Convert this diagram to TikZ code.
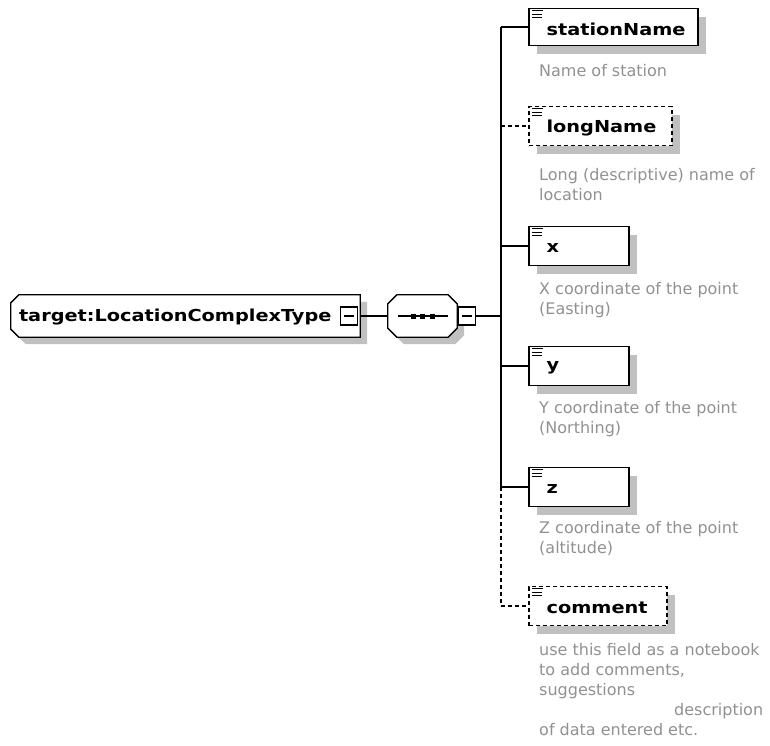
\documentclass[tikz,border=0pt]{standalone}
\usepackage{fontspec}
\setmainfont{DejaVu Sans}
\newfontfamily\labelfont[FakeStretch=1.17]{DejaVu Sans}
\newfontfamily\notefont{DejaVu Sans}
\usetikzlibrary{shadows,calc}

\definecolor{shadowgray}{RGB}{192,192,192}
\definecolor{notegray}{RGB}{145,145,145}

\tikzset{
  boxshadow/.style={drop shadow={shadow xshift=8pt, shadow yshift=-8pt,
      fill=shadowgray, opacity=1}},
  elembox/.style={draw, line width=1.3pt, fill=white, inner sep=0pt,
      minimum height=39pt, boxshadow},
  optbox/.style={elembox, dashed, dash pattern=on 4pt off 3pt},
  typearea/.style={inner sep=0pt, minimum height=42pt},
  outline/.style={draw, line width=1.3pt, fill=white, line join=miter,
      drop shadow={shadow xshift=7pt, shadow yshift=-7pt,
      fill=shadowgray, opacity=1}},
  minusbox/.style={draw, line width=1.2pt, fill=white, inner sep=0pt,
      minimum width=17pt, minimum height=18pt},
  elemlabel/.style={anchor=west, inner sep=0pt,
      font=\labelfont\bfseries\fontsize{16.5}{19}\selectfont},
  note/.style={anchor=north west, inner sep=0pt, align=left, text=notegray,
      font=\notefont\fontsize{16}{20}\selectfont},
  wire/.style={line width=1.3pt},
  optwire/.style={wire, dash pattern=on 4pt off 3pt},
  iconline/.style={line width=1.2pt},
}

\begin{document}
\begin{tikzpicture}[x=1pt, y=-1pt]
  \useasboundingbox (0,0) rectangle (770,745);

  % complex type: left corners cut off
  \node[typearea, minimum width=349pt] (type) at (185.5,316) {};
  \path[outline] ($(type.north west)+(8,0)$) -- (type.north east)
      -- (type.south east) -- ($(type.south west)+(8,0)$)
      -- ($(type.south west)+(0,-8)$) -- ($(type.north west)+(0,8)$) -- cycle;
  \node[elemlabel] (typelabel) at ($(type.west)+(8,1)$) {target:LocationComplexType};
  \node[minusbox, anchor=east] (typeminus) at ($(type.east)+(-2,0)$) {};
  \draw[line width=1.2pt] ($(typeminus.west)+(4,0)$) -- ($(typeminus.east)+(-4,0)$);

  % sequence compositor: all corners cut off
  \node[typearea, minimum width=69pt] (seq) at (422.5,316) {};
  \path[outline] ($(seq.north west)+(9,0)$) -- ($(seq.north east)+(-9,0)$)
      -- ($(seq.north east)+(0,9)$) -- ($(seq.south east)+(0,-9)$)
      -- ($(seq.south east)+(-9,0)$) -- ($(seq.south west)+(9,0)$)
      -- ($(seq.south west)+(0,-9)$) -- ($(seq.north west)+(0,9)$) -- cycle;
  \draw[line width=1.3pt] ($(seq.west)+(10,0)$) -- ($(seq.east)+(-9,0)$);
  \foreach \dx in {-9.5,0,9.5}
    \fill ($(seq.center)+(\dx-2.5,-2.5)$) rectangle ++(5,5);
  \node[minusbox, anchor=west] (seqminus) at ($(seq.east)+(1,0)$) {};
  \draw[line width=1.2pt] ($(seqminus.west)+(4,0)$) -- ($(seqminus.east)+(-4,0)$);

  \draw[wire] (type.east) -- (seq.west);

  % trunk of the sequence
  \coordinate (trunktop) at (501,27);
  \coordinate (fork) at (501,316);
  \coordinate (trunkz) at (501,487);
  \coordinate (trunkbot) at (501,606);
  \draw[wire] (seqminus.east) -- (fork);
  \draw[wire] (trunktop) -- (trunkz);
  \draw[optwire] (trunkz) -- (trunkbot);

  % child elements
  \node[elembox, minimum width=169pt, minimum height=37pt] (sn) at (613.5,27) {};
  \node[optbox, minimum width=143pt] (ln) at (600.5,126) {};
  \node[elembox, minimum width=100pt] (xx) at (579,246) {};
  \node[elembox, minimum width=100pt] (yy) at (579,366) {};
  \node[elembox, minimum width=100pt] (zz) at (579,487) {};
  \node[optbox, minimum width=138pt] (cm) at (598,606) {};

  \draw[wire] (trunktop) -- (trunktop -| sn.west);
  \draw[optwire] (ln.west -| trunktop) -- (ln.west);
  \draw[wire] (xx.west -| trunktop) -- (xx.west);
  \draw[wire] (yy.west -| trunktop) -- (yy.west);
  \draw[wire] (zz.west) -- (trunkz);
  \draw[optwire] (trunkbot) -- (cm.west);

  % element icons
  \foreach \n in {sn,ln,xx,yy,zz,cm} {
    \draw[iconline] ($(\n.north west)+(4,3)$) -- ++(11,0);
    \draw[iconline] ($(\n.north west)+(4,6.5)$) -- ++(10,0);
    \draw[iconline] ($(\n.north west)+(4,10)$) -- ++(10,0);
  }

  % element names
  \node[elemlabel] (snl) at ($(sn.west)+(18,2)$) {stationName};
  \node[elemlabel] (lnl) at ($(ln.west)+(18,2)$) {longName};
  \node[elemlabel] (xxl) at ($(xx.west)+(18,2)$) {x};
  \node[elemlabel] (yyl) at ($(yy.west)+(18,2)$) {y};
  \node[elemlabel] (zzl) at ($(zz.west)+(18,2)$) {z};
  \node[elemlabel] (cml) at ($(cm.west)+(18,2)$) {comment};

  % annotations
  \node[note] (snn) at (539,64) {Name of station};
  \node[note] (lnn) at (539,168) {Long (descriptive) name of\\location};
  \node[note] (xxn) at (539,282) {X coordinate of the point\\(Easting)};
  \node[note] (yyn) at (539,401) {Y coordinate of the point\\(Northing)};
  \node[note] (zzn) at (539,521) {Z coordinate of the point\\(altitude)};
  \node[note] (cmn) at (539,643) {use this field as a notebook\\to add comments,\\suggestions\\\hspace*{135pt}description\\of data entered etc.};
\end{tikzpicture}
\end{document}
